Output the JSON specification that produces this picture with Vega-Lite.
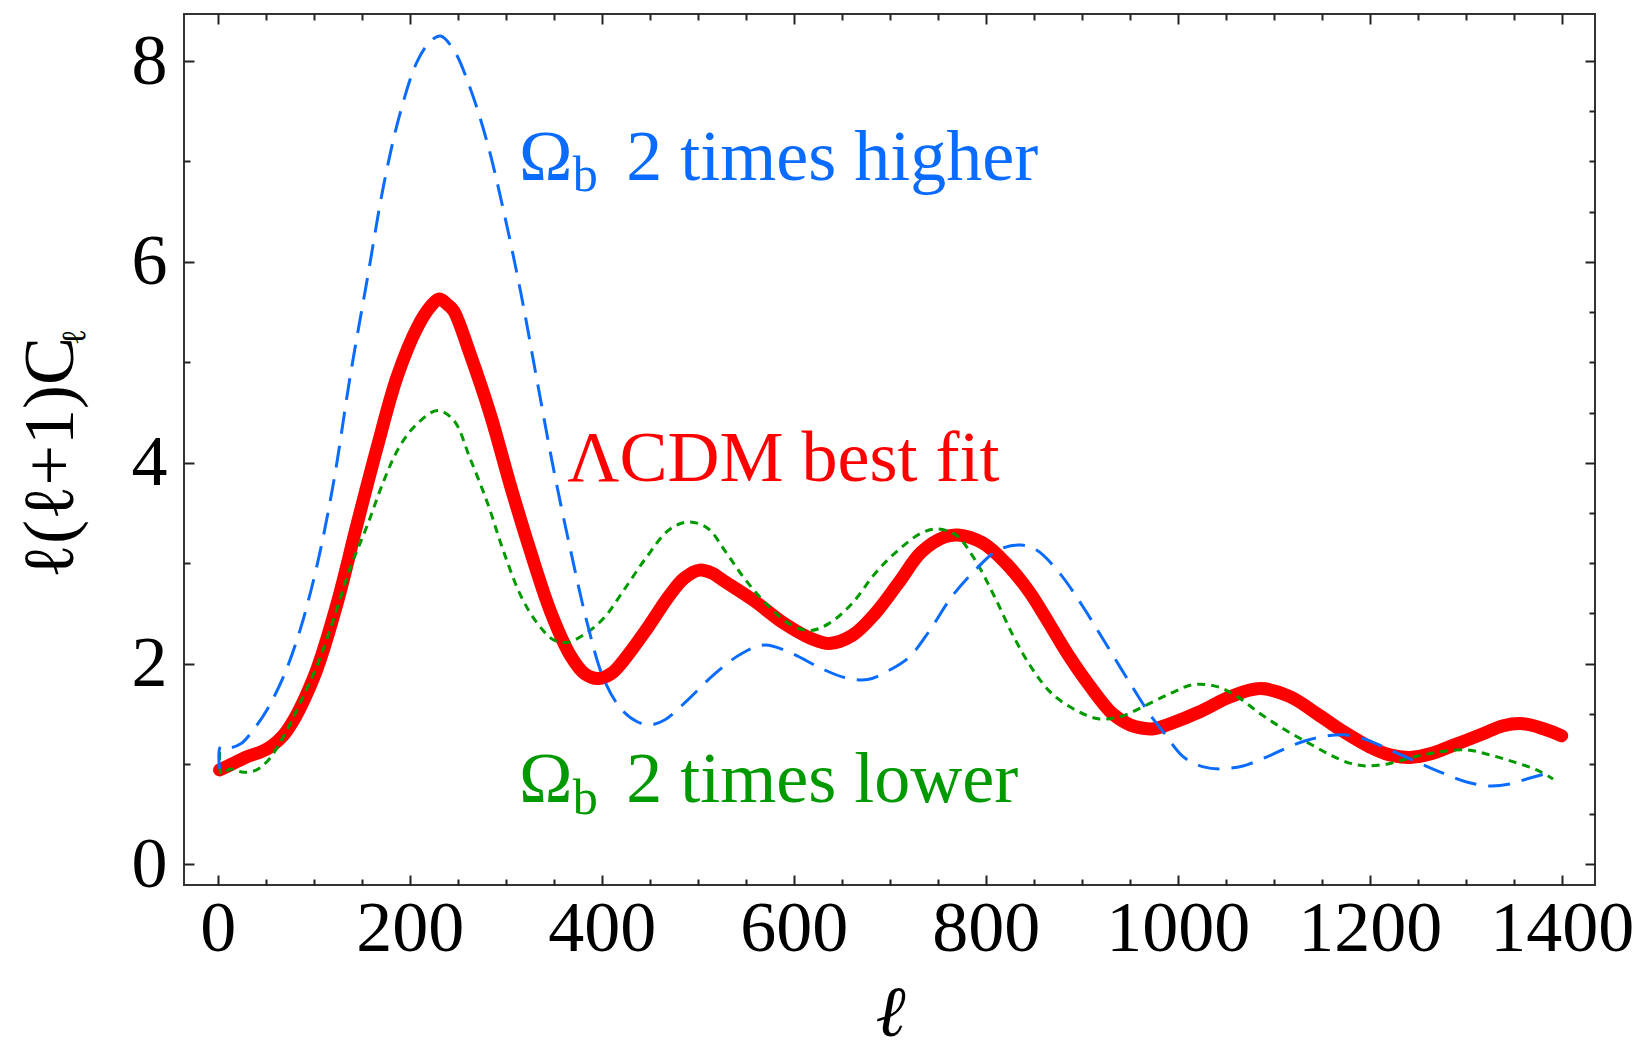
{
  "$schema": "https://vega.github.io/schema/vega-lite/v6.json",
  "width": 1411,
  "height": 871,
  "autosize": {"type": "none"},
  "padding": {"left": 184, "top": 14, "right": 44, "bottom": 167},
  "background": "white",
  "config": {"view": {"stroke": "#333333", "strokeWidth": 2}, "font": "Liberation Serif"},
  "datasets": {
    "curves": [
      {"model":"lcdm","l":2,"cl":0.94},{"model":"lcdm","l":15,"cl":1.0},{"model":"lcdm","l":30,"cl":1.07},{"model":"lcdm","l":45,"cl":1.12},{"model":"lcdm","l":55,"cl":1.17},{"model":"lcdm","l":68,"cl":1.28},{"model":"lcdm","l":80,"cl":1.45},{"model":"lcdm","l":92,"cl":1.68},{"model":"lcdm","l":104,"cl":1.96},{"model":"lcdm","l":125,"cl":2.62},{"model":"lcdm","l":145,"cl":3.38},{"model":"lcdm","l":166,"cl":4.15},{"model":"lcdm","l":187,"cl":4.86},{"model":"lcdm","l":208,"cl":5.35},{"model":"lcdm","l":222,"cl":5.56},{"model":"lcdm","l":231,"cl":5.63},{"model":"lcdm","l":240,"cl":5.57},{"model":"lcdm","l":246,"cl":5.51},{"model":"lcdm","l":263,"cl":5.08},{"model":"lcdm","l":284,"cl":4.48},{"model":"lcdm","l":305,"cl":3.77},{"model":"lcdm","l":326,"cl":3.11},{"model":"lcdm","l":347,"cl":2.51},{"model":"lcdm","l":368,"cl":2.07},{"model":"lcdm","l":382,"cl":1.9},{"model":"lcdm","l":396,"cl":1.85},{"model":"lcdm","l":410,"cl":1.9},{"model":"lcdm","l":422,"cl":2.02},{"model":"lcdm","l":446,"cl":2.33},{"model":"lcdm","l":470,"cl":2.67},{"model":"lcdm","l":486,"cl":2.85},{"model":"lcdm","l":502,"cl":2.93},{"model":"lcdm","l":515,"cl":2.9},{"model":"lcdm","l":526,"cl":2.83},{"model":"lcdm","l":558,"cl":2.63},{"model":"lcdm","l":590,"cl":2.4},{"model":"lcdm","l":618,"cl":2.25},{"model":"lcdm","l":637,"cl":2.2},{"model":"lcdm","l":661,"cl":2.28},{"model":"lcdm","l":685,"cl":2.5},{"model":"lcdm","l":709,"cl":2.8},{"model":"lcdm","l":733,"cl":3.11},{"model":"lcdm","l":757,"cl":3.26},{"model":"lcdm","l":771,"cl":3.28},{"model":"lcdm","l":797,"cl":3.2},{"model":"lcdm","l":821,"cl":3.0},{"model":"lcdm","l":845,"cl":2.72},{"model":"lcdm","l":861,"cl":2.48},{"model":"lcdm","l":885,"cl":2.1},{"model":"lcdm","l":909,"cl":1.77},{"model":"lcdm","l":932,"cl":1.5},{"model":"lcdm","l":950,"cl":1.39},{"model":"lcdm","l":964,"cl":1.355},{"model":"lcdm","l":975,"cl":1.35},{"model":"lcdm","l":992,"cl":1.4},{"model":"lcdm","l":1023,"cl":1.52},{"model":"lcdm","l":1055,"cl":1.67},{"model":"lcdm","l":1086,"cl":1.75},{"model":"lcdm","l":1117,"cl":1.67},{"model":"lcdm","l":1145,"cl":1.5},{"model":"lcdm","l":1173,"cl":1.32},{"model":"lcdm","l":1200,"cl":1.17},{"model":"lcdm","l":1221,"cl":1.09},{"model":"lcdm","l":1242,"cl":1.065},{"model":"lcdm","l":1263,"cl":1.1},{"model":"lcdm","l":1291,"cl":1.2},{"model":"lcdm","l":1318,"cl":1.3},{"model":"lcdm","l":1339,"cl":1.38},{"model":"lcdm","l":1360,"cl":1.4},{"model":"lcdm","l":1381,"cl":1.35},{"model":"lcdm","l":1400,"cl":1.28},
      {"model":"high","l":2,"cl":0.95},{"model":"high","l":3,"cl":1.17},{"model":"high","l":12,"cl":1.16},{"model":"high","l":24,"cl":1.2},{"model":"high","l":38,"cl":1.35},{"model":"high","l":52,"cl":1.55},{"model":"high","l":69,"cl":1.88},{"model":"high","l":86,"cl":2.34},{"model":"high","l":104,"cl":3.0},{"model":"high","l":121,"cl":3.82},{"model":"high","l":138,"cl":4.86},{"model":"high","l":156,"cl":5.84},{"model":"high","l":173,"cl":6.77},{"model":"high","l":190,"cl":7.48},{"model":"high","l":208,"cl":8.0},{"model":"high","l":222,"cl":8.2},{"model":"high","l":232,"cl":8.25},{"model":"high","l":246,"cl":8.11},{"model":"high","l":263,"cl":7.73},{"model":"high","l":281,"cl":7.18},{"model":"high","l":298,"cl":6.5},{"model":"high","l":316,"cl":5.68},{"model":"high","l":333,"cl":4.8},{"model":"high","l":350,"cl":3.93},{"model":"high","l":368,"cl":3.11},{"model":"high","l":385,"cl":2.4},{"model":"high","l":402,"cl":1.85},{"model":"high","l":420,"cl":1.55},{"model":"high","l":437,"cl":1.42},{"model":"high","l":451,"cl":1.39},{"model":"high","l":466,"cl":1.44},{"model":"high","l":490,"cl":1.64},{"model":"high","l":518,"cl":1.9},{"model":"high","l":546,"cl":2.1},{"model":"high","l":570,"cl":2.185},{"model":"high","l":598,"cl":2.1},{"model":"high","l":629,"cl":1.95},{"model":"high","l":653,"cl":1.86},{"model":"high","l":677,"cl":1.84},{"model":"high","l":701,"cl":1.94},{"model":"high","l":721,"cl":2.07},{"model":"high","l":741,"cl":2.32},{"model":"high","l":765,"cl":2.67},{"model":"high","l":789,"cl":2.93},{"model":"high","l":813,"cl":3.13},{"model":"high","l":837,"cl":3.18},{"model":"high","l":853,"cl":3.13},{"model":"high","l":877,"cl":2.9},{"model":"high","l":901,"cl":2.57},{"model":"high","l":925,"cl":2.2},{"model":"high","l":948,"cl":1.84},{"model":"high","l":972,"cl":1.48},{"model":"high","l":985,"cl":1.32},{"model":"high","l":1006,"cl":1.07},{"model":"high","l":1027,"cl":0.97},{"model":"high","l":1044,"cl":0.95},{"model":"high","l":1068,"cl":0.98},{"model":"high","l":1093,"cl":1.07},{"model":"high","l":1121,"cl":1.19},{"model":"high","l":1145,"cl":1.26},{"model":"high","l":1173,"cl":1.29},{"model":"high","l":1197,"cl":1.24},{"model":"high","l":1221,"cl":1.14},{"model":"high","l":1249,"cl":1.02},{"model":"high","l":1277,"cl":0.905},{"model":"high","l":1301,"cl":0.82},{"model":"high","l":1325,"cl":0.78},{"model":"high","l":1346,"cl":0.8},{"model":"high","l":1367,"cl":0.86},{"model":"high","l":1390,"cl":0.92},
      {"model":"low","l":2,"cl":1.12},{"model":"low","l":4,"cl":0.9},{"model":"low","l":13,"cl":0.95},{"model":"low","l":25,"cl":0.92},{"model":"low","l":38,"cl":0.93},{"model":"low","l":52,"cl":1.03},{"model":"low","l":69,"cl":1.28},{"model":"low","l":86,"cl":1.61},{"model":"low","l":104,"cl":1.99},{"model":"low","l":121,"cl":2.45},{"model":"low","l":138,"cl":2.95},{"model":"low","l":156,"cl":3.38},{"model":"low","l":173,"cl":3.82},{"model":"low","l":190,"cl":4.17},{"model":"low","l":208,"cl":4.39},{"model":"low","l":229,"cl":4.52},{"model":"low","l":246,"cl":4.42},{"model":"low","l":263,"cl":4.04},{"model":"low","l":281,"cl":3.6},{"model":"low","l":298,"cl":3.11},{"model":"low","l":316,"cl":2.67},{"model":"low","l":333,"cl":2.4},{"model":"low","l":350,"cl":2.235},{"model":"low","l":364,"cl":2.21},{"model":"low","l":382,"cl":2.29},{"model":"low","l":402,"cl":2.45},{"model":"low","l":423,"cl":2.73},{"model":"low","l":446,"cl":3.05},{"model":"low","l":470,"cl":3.33},{"model":"low","l":490,"cl":3.41},{"model":"low","l":510,"cl":3.35},{"model":"low","l":530,"cl":3.1},{"model":"low","l":550,"cl":2.83},{"model":"low","l":574,"cl":2.57},{"model":"low","l":598,"cl":2.38},{"model":"low","l":618,"cl":2.33},{"model":"low","l":637,"cl":2.4},{"model":"low","l":661,"cl":2.6},{"model":"low","l":685,"cl":2.9},{"model":"low","l":709,"cl":3.13},{"model":"low","l":733,"cl":3.3},{"model":"low","l":749,"cl":3.34},{"model":"low","l":769,"cl":3.28},{"model":"low","l":789,"cl":3.03},{"model":"low","l":809,"cl":2.67},{"model":"low","l":829,"cl":2.27},{"model":"low","l":849,"cl":1.94},{"model":"low","l":869,"cl":1.7},{"model":"low","l":893,"cl":1.54},{"model":"low","l":917,"cl":1.45},{"model":"low","l":940,"cl":1.47},{"model":"low","l":964,"cl":1.57},{"model":"low","l":992,"cl":1.7},{"model":"low","l":1016,"cl":1.79},{"model":"low","l":1041,"cl":1.77},{"model":"low","l":1062,"cl":1.67},{"model":"low","l":1086,"cl":1.5},{"model":"low","l":1110,"cl":1.35},{"model":"low","l":1134,"cl":1.22},{"model":"low","l":1159,"cl":1.09},{"model":"low","l":1180,"cl":1.005},{"model":"low","l":1197,"cl":0.98},{"model":"low","l":1221,"cl":1.005},{"model":"low","l":1246,"cl":1.07},{"model":"low","l":1273,"cl":1.12},{"model":"low","l":1301,"cl":1.14},{"model":"low","l":1325,"cl":1.09},{"model":"low","l":1350,"cl":1.02},{"model":"low","l":1374,"cl":0.94},{"model":"low","l":1391,"cl":0.85}
    ],
    "labels": [
      {"series":"high","l":313.9,"cl":6.816,"text":"Ω"},
      {"series":"high","l":425.6,"cl":6.816,"text":"2 times higher"},
      {"series":"lcdm","l":364.2,"cl":3.821,"text":"ΛCDM best fit"},
      {"series":"low","l":313.9,"cl":0.624,"text":"Ω"},
      {"series":"low","l":425.6,"cl":0.624,"text":"2 times lower"}
    ],
    "subs": [
      {"series":"high","l":369.8,"cl":6.709,"text":"b"},
      {"series":"low","l":369.8,"cl":0.501,"text":"b"}
    ],
    "ysub": [
      {"l":-138,"cl":5.17,"text":"ℓ"}
    ]
  },
  "layer": [
    {
      "data": {"name": "curves"},
      "transform": [{"filter": "datum.model === 'lcdm'"}],
      "mark": {"type": "line", "color": "#ff0000", "strokeWidth": 13, "strokeCap": "round", "strokeJoin": "round", "interpolate": "catmull-rom"},
      "encoding": {
        "x": {"field": "l", "type": "quantitative", "scale": {"domain": [-35.1, 1434.7], "nice": false, "zero": false},
          "axis": {"orient": "bottom", "values": [0,50,100,150,200,250,300,350,400,450,500,550,600,650,700,750,800,850,900,950,1000,1050,1100,1150,1200,1250,1300,1350,1400],
            "domain": false, "grid": false, "ticks": true, "tickColor": "#222222", "tickWidth": 2,
            "tickSize": {"condition": {"test": "datum.value % 200 === 0", "value": -10}, "value": -6},
            "labelExpr": "datum.value % 200 === 0 ? datum.label : ''", "format": "d",
            "labelFont": "Liberation Serif", "labelFontSize": 72, "labelColor": "#000000", "labelPadding": 75, "labelBaseline": "alphabetic", "labelFlush": false, "labelOverlap": false,
            "title": "ℓ", "titleFont": "Liberation Serif", "titleFontSize": 72, "titleFontStyle": "italic", "titleFontWeight": "normal", "titleColor": "#000000",
            "titleX": 706, "titleY": 150, "titleAlign": "center", "titleBaseline": "alphabetic"}},
        "y": {"field": "cl", "type": "quantitative", "scale": {"domain": [-0.206, 8.469], "nice": false, "zero": false},
          "axis": {"orient": "left", "values": [0,0.5,1,1.5,2,2.5,3,3.5,4,4.5,5,5.5,6,6.5,7,7.5,8],
            "domain": false, "grid": false, "ticks": true, "tickColor": "#222222", "tickWidth": 2,
            "tickSize": {"condition": {"test": "datum.value % 2 === 0", "value": -10}, "value": -6},
            "labelExpr": "datum.value % 2 === 0 ? datum.label : ''", "format": "d",
            "labelFont": "Liberation Serif", "labelFontSize": 72, "labelColor": "#000000", "labelPadding": 27, "labelBaseline": "middle", "labelFlush": false, "labelOverlap": false,
            "title": "ℓ(ℓ+1)C", "titleFont": "Liberation Serif", "titleFontSize": 72, "titleFontWeight": "normal", "titleColor": "#000000",
            "titleAngle": 270, "titleX": -112, "titleY": 564, "titleAlign": "left", "titleBaseline": "alphabetic"}}
      }
    },
    {
      "data": {"name": "curves"},
      "transform": [{"filter": "datum.model === 'low'"}],
      "mark": {"type": "line", "color": "#009900", "strokeWidth": 3, "strokeDash": [8, 6], "interpolate": "catmull-rom"},
      "encoding": {
        "x": {"field": "l", "type": "quantitative", "scale": {"domain": [-35.1, 1434.7], "nice": false, "zero": false},
          "axis": {"orient": "top", "values": [0,50,100,150,200,250,300,350,400,450,500,550,600,650,700,750,800,850,900,950,1000,1050,1100,1150,1200,1250,1300,1350,1400],
            "domain": false, "grid": false, "ticks": true, "labels": false, "title": null, "tickColor": "#222222", "tickWidth": 2,
            "tickSize": {"condition": {"test": "datum.value % 200 === 0", "value": -10}, "value": -6}}},
        "y": {"field": "cl", "type": "quantitative", "scale": {"domain": [-0.206, 8.469], "nice": false, "zero": false},
          "axis": {"orient": "right", "values": [0,0.5,1,1.5,2,2.5,3,3.5,4,4.5,5,5.5,6,6.5,7,7.5,8],
            "domain": false, "grid": false, "ticks": true, "labels": false, "title": null, "tickColor": "#222222", "tickWidth": 2,
            "tickSize": {"condition": {"test": "datum.value % 2 === 0", "value": -10}, "value": -6}}}
      }
    },
    {
      "data": {"name": "curves"},
      "transform": [{"filter": "datum.model === 'high'"}],
      "mark": {"type": "line", "color": "#0a6cff", "strokeWidth": 3, "strokeDash": [22, 12], "interpolate": "catmull-rom"},
      "encoding": {
        "x": {"field": "l", "type": "quantitative", "scale": {"domain": [-35.1, 1434.7], "nice": false, "zero": false}, "axis": null},
        "y": {"field": "cl", "type": "quantitative", "scale": {"domain": [-0.206, 8.469], "nice": false, "zero": false}, "axis": null}
      }
    },
    {
      "data": {"name": "labels"},
      "mark": {"type": "text", "font": "Liberation Serif", "fontSize": 72, "align": "left", "baseline": "alphabetic"},
      "encoding": {
        "x": {"field": "l", "type": "quantitative", "scale": {"domain": [-35.1, 1434.7], "nice": false, "zero": false}, "axis": null},
        "y": {"field": "cl", "type": "quantitative", "scale": {"domain": [-0.206, 8.469], "nice": false, "zero": false}, "axis": null},
        "text": {"field": "text"},
        "color": {"field": "series", "type": "nominal", "scale": {"domain": ["lcdm", "high", "low"], "range": ["#ff0000", "#0a6cff", "#009900"]}, "legend": null}
      }
    },
    {
      "data": {"name": "subs"},
      "mark": {"type": "text", "font": "Liberation Serif", "fontSize": 50, "align": "left", "baseline": "alphabetic"},
      "encoding": {
        "x": {"field": "l", "type": "quantitative", "scale": {"domain": [-35.1, 1434.7], "nice": false, "zero": false}, "axis": null},
        "y": {"field": "cl", "type": "quantitative", "scale": {"domain": [-0.206, 8.469], "nice": false, "zero": false}, "axis": null},
        "text": {"field": "text"},
        "color": {"field": "series", "type": "nominal", "scale": {"domain": ["lcdm", "high", "low"], "range": ["#ff0000", "#0a6cff", "#009900"]}, "legend": null}
      }
    },
    {
      "data": {"name": "ysub"},
      "mark": {"type": "text", "font": "Liberation Serif", "fontSize": 34, "align": "left", "baseline": "alphabetic", "angle": 270, "color": "#000000"},
      "encoding": {
        "x": {"field": "l", "type": "quantitative", "scale": {"domain": [-35.1, 1434.7], "nice": false, "zero": false}, "axis": null},
        "y": {"field": "cl", "type": "quantitative", "scale": {"domain": [-0.206, 8.469], "nice": false, "zero": false}, "axis": null},
        "text": {"field": "text"}
      }
    }
  ]
}
